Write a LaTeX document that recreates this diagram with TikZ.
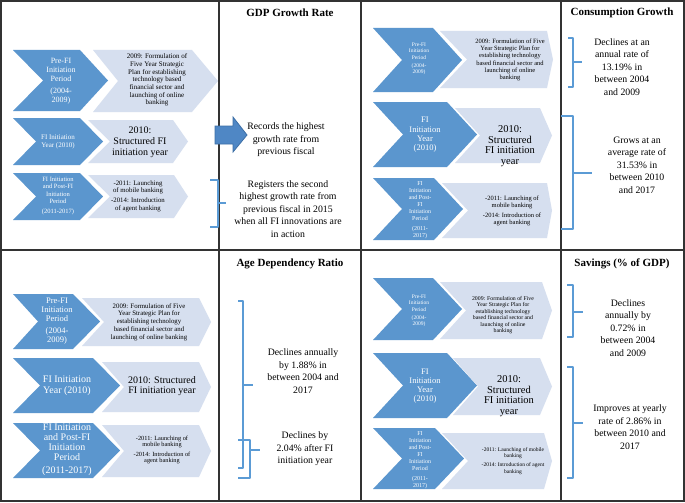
\documentclass[tikz,border=0pt]{standalone}
\usepackage{fontspec}
\setmainfont{Liberation Serif}
\definecolor{darkchev}{HTML}{5B96CE}
\definecolor{lightchev}{HTML}{D6DFEF}
\definecolor{bracecol}{HTML}{5B9BD5}
\definecolor{arrowfill}{HTML}{4F87C5}
\definecolor{arrowdraw}{HTML}{3D6FA6}
\definecolor{gridcol}{HTML}{333333}
\newcommand\fs[2]{\fontsize{#1}{#2}\selectfont}
% style, x1, y1, x2, y2, notch depth, tip depth
\newcommand\chevpath[7]{\path[#1] (#2,#3) -- ({#4-#7},#3) -- (#4,{(#3+#5)/2}) -- ({#4-#7},#5) -- (#2,#5) -- ({#2+#6},{(#3+#5)/2}) -- cycle;}
% style, xhook, xvert, ytop, ybot, ytip, xtip
\newcommand\rbrc[7]{\draw[#1] (#2,#4) -- (#3,#4) -- (#3,#5) -- (#2,#5); \draw[#1] (#3,#6) -- (#7,#6);}
\tikzset{
  darkshape/.style={fill=darkchev},
  lightshape/.style={fill=lightchev},
  dtext/.style={text=white, align=center, inner sep=0pt},
  ltext/.style={text=black, align=center, inner sep=0pt},
  ctext/.style={text=black, align=center, inner sep=0pt, font=\fs{9.8}{12.5}},
  title/.style={text=black, inner sep=0pt, font=\fs{11}{13}\bfseries},
  bracestyle/.style={draw=bracecol, line width=1.2pt, line join=round},
  gridline/.style={draw=gridcol, line width=1.2pt},
}
\begin{document}
\begin{tikzpicture}[x=1pt,y=-1pt]
\useasboundingbox (0,0) rectangle (685,503);
\fill[white] (0,0) rectangle (685,503);
% ---------- top-left panel chevrons ----------
\chevpath{darkshape}{13}{50}{108}{111}{30}{28}
\chevpath{lightshape}{93}{50}{218}{112}{25}{26}
\chevpath{darkshape}{13}{118}{103}{165}{23}{23}
\chevpath{lightshape}{88}{120}{188}{163}{22}{15}
\chevpath{darkshape}{13}{173}{103}{220}{23}{23}
\chevpath{lightshape}{88}{175}{188}{218}{22}{14}
\node[dtext, font=\fs{8}{9}] (tlD1) at (61,81) {Pre-FI\\Initiation\\Period\\[2.5pt](2004-\\2009)};
\node[ltext, font=\fs{7}{7.7}] (tlL1) at (157,80) {2009: Formulation of\\Five Year Strategic\\Plan for establishing\\technology based\\financial sector and\\launching of online\\banking};
\node[dtext, font=\fs{7}{8.5}] (tlD2) at (58,142) {FI Initiation\\Year (2010)};
\node[ltext, font=\fs{10}{11}] (tlL2) at (140,142) {2010:\\Structured FI\\initiation year};
\node[dtext, font=\fs{6.5}{7.5}] (tlD3) at (58,196) {FI Initiation\\and Post-FI\\Initiation\\Period\\[2.5pt](2011-2017)};
\node[ltext, font=\fs{6.8}{7.5}] (tlL3) at (138,196) {-2011: Launching\\of mobile banking\\[2.5pt]-2014: Introduction\\of agent banking};
% ---------- top-right panel chevrons ----------
\chevpath{darkshape}{373}{28}{462}{92}{29}{29}
\chevpath{lightshape}{440}{31}{553}{88}{27}{6}
\chevpath{darkshape}{373}{102}{477}{167}{30}{30}
\chevpath{lightshape}{455}{108}{552}{163}{25}{12}
\chevpath{darkshape}{373}{178}{463}{240}{29}{29}
\chevpath{lightshape}{442}{183}{552}{238}{26}{5}
\node[dtext, font=\fs{5.5}{6.3}] (trD1) at (419,59) {Pre-FI\\Initiation\\Period\\[2pt](2004-\\2009)};
\node[ltext, font=\fs{6.5}{7.3}] (trL1) at (510,60) {2009: Formulation of Five\\Year Strategic Plan for\\establishing technology\\based financial sector and\\launching of online\\banking};
\node[dtext, font=\fs{8.5}{9.3}] (trD2) at (425,135) {FI\\Initiation\\Year\\(2010)};
\node[ltext, font=\fs{10.5}{10.5}] (trL2) at (510,146) {2010:\\Structured\\FI initiation\\year};
\node[dtext, font=\fs{6}{7}] (trD3) at (420,210) {FI\\Initiation\\and Post-\\FI\\Initiation\\Period\\[2.5pt](2011-\\2017)};
\node[ltext, font=\fs{6.5}{7}] (trL3) at (512,211) {-2011: Launching of\\mobile banking\\[3pt]-2014: Introduction of\\agent banking};
% ---------- bottom-left panel chevrons ----------
\chevpath{darkshape}{13}{294}{100}{349}{25}{27}
\chevpath{lightshape}{82}{298}{211}{346}{22}{12}
\chevpath{darkshape}{13}{358}{120}{413}{27}{27}
\chevpath{lightshape}{102}{362}{211}{412}{22}{12}
\chevpath{darkshape}{13}{423}{120}{478}{27}{27}
\chevpath{lightshape}{102}{425}{211}{477}{22}{12}
\node[dtext, font=\fs{8.5}{9}] (blD1) at (57,321) {Pre-FI\\Initiation\\Period\\[2.5pt](2004-\\2009)};
\node[ltext, font=\fs{6.8}{7.8}] (blL1) at (149,322) {2009: Formulation of Five\\Year Strategic Plan for\\establishing technology\\based financial sector and\\launching of online banking};
\node[dtext, font=\fs{10}{11}] (blD2) at (67,386) {FI Initiation\\Year (2010)};
\node[ltext, font=\fs{10}{10.5}] (blL2) at (162,386) {2010: Structured\\FI initiation year};
\node[dtext, font=\fs{10}{10}] (blD3) at (67,450) {FI Initiation\\and Post-FI\\Initiation\\Period\\[3pt](2011-2017)};
\node[ltext, font=\fs{6.3}{6.5}] (blL3) at (162,450) {-2011: Launching of\\mobile banking\\[3pt]-2014: Introduction of\\agent banking};
% ---------- bottom-right panel chevrons ----------
\chevpath{darkshape}{373}{278}{462}{340}{29}{29}
\chevpath{lightshape}{440}{282}{552}{339}{26}{10}
\chevpath{darkshape}{373}{353}{477}{418}{30}{30}
\chevpath{lightshape}{453}{358}{552}{415}{25}{12}
\chevpath{darkshape}{373}{428}{464}{489}{29}{29}
\chevpath{lightshape}{442}{433}{552}{489}{26}{8}
\node[dtext, font=\fs{5.5}{6.3}] (brD1) at (419,311) {Pre-FI\\Initiation\\Period\\[2pt](2004-\\2009)};
\node[ltext, font=\fs{5.8}{6.5}] (brL1) at (503,315) {2009: Formulation of Five\\Year Strategic Plan for\\establishing technology\\based financial sector and\\launching of online\\banking};
\node[dtext, font=\fs{8.5}{9}] (brD2) at (425,386) {FI\\Initiation\\Year\\(2010)};
\node[ltext, font=\fs{10.5}{10.5}] (brL2) at (509,396) {2010:\\Structured\\FI initiation\\year};
\node[dtext, font=\fs{6}{7}] (brD3) at (420,460) {FI\\Initiation\\and Post-\\FI\\Initiation\\Period\\[2.5pt](2011-\\2017)};
\node[ltext, font=\fs{5.5}{6.5}] (brL3) at (513,461) {-2011: Launching of mobile\\banking\\[2.5pt]-2014: Introduction of agent\\banking};
% ---------- grid ----------
\draw[gridline] (1,1) rectangle (684,501);
\draw[gridline] (1,250) -- (684,250);
\draw[gridline] (219,1) -- (219,501);
\draw[gridline] (361,1) -- (361,501);
\draw[gridline] (561,1) -- (561,501);
% ---------- GDP panel ----------
\node[title] (gdpT) at (290,13) {GDP Growth Rate};
\path[fill=arrowfill, draw=arrowdraw, line width=0.8pt] (215,126) -- (233,126) -- (233,117) -- (247,135) -- (233,152) -- (233,144) -- (215,144) -- cycle;
\node[ctext] (gdp1) at (286,140) {Records the highest\\growth rate from\\previous fiscal};
\rbrc{bracestyle}{210}{218}{180}{227}{203}{226}
\node[ctext] (gdp2) at (288,209) {Registers the second\\highest growth rate from\\previous fiscal in 2015\\when all FI innovations are\\in action};
% ---------- Consumption panel ----------
\node[title] (conT) at (622,13) {Consumption Growth};
\rbrc{bracestyle}{568}{573}{38}{87}{62}{582}
\node[ctext] (con1) at (622,67) {Declines at an\\annual rate of\\13.19\% in\\between 2004\\and 2009};
\rbrc{bracestyle}{561}{573}{116}{229}{173}{592}
\node[ctext] (con2) at (637,165) {Grows at an\\average rate of\\31.53\% in\\between 2010\\and 2017};
% ---------- Age dependency panel ----------
\node[title] (ageT) at (290,264) {Age Dependency Ratio};
\rbrc{bracestyle}{238}{243}{301}{468}{385}{253}
\node[ctext] (age1) at (303,371) {Declines annually\\by 1.88\% in\\between 2004 and\\2017};
\rbrc{bracestyle, line width=2pt}{238}{250}{440}{478}{450}{260}
\node[ctext] (age2) at (305,449) {Declines by\\2.04\% after FI\\initiation year};
% ---------- Savings panel ----------
\node[title] (savT) at (622,264) {Savings (\% of GDP)};
\rbrc{bracestyle}{567}{573}{285}{337}{312}{583}
\node[ctext] (sav1) at (628,328) {Declines\\annually by\\0.72\% in\\between 2004\\and 2009};
\rbrc{bracestyle}{567}{573}{367}{478}{423}{583}
\node[ctext] (sav2) at (630,427) {Improves at yearly\\rate of 2.86\% in\\between 2010 and\\2017};
\end{tikzpicture}
\end{document}
